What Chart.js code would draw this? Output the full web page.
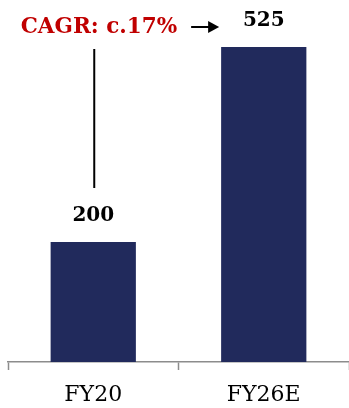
<!DOCTYPE html>
<html>
<head>
<meta charset="utf-8">
<script src="https://cdn.jsdelivr.net/npm/chart.js@4"></script>
<style>
  html, body { margin: 0; padding: 0; background: #fff; }
  #wrap { width: 349px; height: 408px; }
</style>
</head>
<body>
<div id="wrap"><canvas id="barChart"></canvas></div>
<script>
var categories = ["FY20", "FY26E"];
var revenue = [200, 525];
var cagrLabel = "CAGR: c.17%";

var serif = "'DejaVu Serif', 'Liberation Serif', serif";

// labels, CAGR text, arrow and connector line
var annotations = {
    id: "annotations",
    afterDatasetsDraw: function (chart) {
        var ctx = chart.ctx;
        var bars = chart.getDatasetMeta(0).data;
        var b0 = bars[0], b1 = bars[1];

        ctx.save();
        ctx.fillStyle = "#000";
        ctx.font = "bold 20px " + serif;
        ctx.textAlign = "center";
        ctx.textBaseline = "middle";
        bars.forEach(function (bar, i) {
            ctx.fillText(String(revenue[i]), bar.x, bar.y - 26);
        });

        // connector line from top level down to first label
        ctx.strokeStyle = "#000";
        ctx.lineWidth = 2;
        ctx.beginPath();
        ctx.moveTo(b0.x + 1, b1.y + 2);
        ctx.lineTo(b0.x + 1, b0.y - 54);
        ctx.stroke();

        // arrow
        var ay = b1.y - 20;
        var ax1 = b1.x - b1.width / 2 - 2;
        var ax0 = ax1 - 28;
        ctx.lineWidth = 2;
        ctx.beginPath();
        ctx.moveTo(ax0, ay);
        ctx.lineTo(ax1 - 8, ay);
        ctx.stroke();
        ctx.beginPath();
        ctx.moveTo(ax1, ay);
        ctx.lineTo(ax1 - 11, ay - 6);
        ctx.lineTo(ax1 - 11, ay + 6);
        ctx.closePath();
        ctx.fill();

        ctx.fillStyle = "#c00000";
        ctx.font = "bold 21.5px " + serif;
        ctx.textAlign = "right";
        ctx.fillText(cagrLabel, ax0 - 14, ay);
        ctx.restore();
    }
};

var ctx = document.getElementById("barChart").getContext("2d");
var chart = new Chart(ctx, {
    type: "bar",
    data: {
        labels: categories,
        datasets: [{
            data: revenue,
            backgroundColor: "#212a5c",
            barPercentage: 1,
            categoryPercentage: 0.5
        }]
    },
    options: {
        responsive: true,
        maintainAspectRatio: false,
        animation: false,
        layout: { padding: { top: 2, left: 8, right: 0, bottom: 0 } },
        plugins: { legend: { display: false }, tooltip: { enabled: false } },
        scales: {
            x: {
                offset: true,
                afterFit: function (scale) { scale.height = 46; },
                grid: {
                    offset: true,
                    drawOnChartArea: false,
                    tickLength: 8,
                    tickWidth: 1.5,
                    color: "#8c8c8c"
                },
                border: { color: "#8c8c8c", width: 1.5 },
                ticks: {
                    color: "#000",
                    padding: 12,
                    font: { family: serif, size: 22 }
                }
            },
            y: {
                display: false,
                min: 0,
                max: 600
            }
        }
    },
    plugins: [annotations]
});
</script>
</body>
</html>
